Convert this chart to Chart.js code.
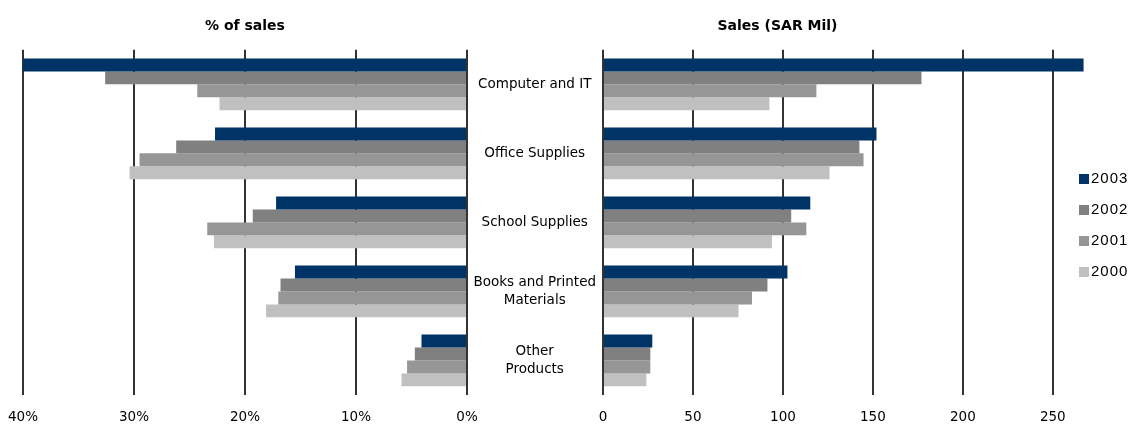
<!DOCTYPE html>
<html>
<head>
<meta charset="utf-8">
<script src="https://cdn.jsdelivr.net/npm/chart.js@4"></script>
<style>
    body { margin: 0; background: #fff; }
    #wrap { position: relative; width: 1130px; height: 425px; }
    #left-box { position: absolute; left: 0; top: 0; width: 480px; height: 425px; }
    #right-box { position: absolute; left: 468px; top: 0; width: 619px; height: 425px; }
    #legend { position: absolute; left: 1079px; top: 169px; font: 15px "Liberation Sans", Arial, sans-serif; letter-spacing: 1px; color: #000; }
    #legend div { height: 31px; line-height: 18px; white-space: nowrap; }
    #legend span.sw { display: inline-block; width: 10px; height: 10px; margin-right: 2px; vertical-align: -1px; }
</style>
</head>
<body>
<div id="wrap">
    <div id="left-box"><canvas id="shareChart"></canvas></div>
    <div id="right-box"><canvas id="salesChart"></canvas></div>
    <div id="legend"></div>
</div>
<script>
// Dữ liệu
const categories = ['Computer and IT', 'Office Supplies', 'School Supplies', ['Books and Printed', 'Materials'], ['Other', 'Products']];
const years = ['2003', '2002', '2001', '2000'];
const yearColors = ['#003366', '#808080', '#969696', '#c0c0c0'];

// % of sales
const share2003 = [40.0, 22.7, 17.2, 15.5, 4.1];
const share2002 = [32.6, 26.2, 19.3, 16.8, 4.7];
const share2001 = [24.3, 29.5, 23.4, 17.0, 5.4];
const share2000 = [22.3, 30.4, 22.8, 18.1, 5.9];
const shareTicks = [0, 10, 20, 30, 40];

// Sales (SAR Mil)
const sales2003 = [267.1, 152.0, 115.2, 102.5, 27.4];
const sales2002 = [177.0, 142.5, 104.6, 91.4, 26.3];
const sales2001 = [118.6, 144.8, 113.0, 82.8, 26.3];
const sales2000 = [92.5, 125.9, 93.9, 75.3, 24.1];
const salesTicks = [0, 50, 100, 150, 200, 250];

const FONT = '"DejaVu Sans", sans-serif';

function makeDatasets(seriesList) {
    return seriesList.map((data, i) => ({
        label: years[i],
        data: data,
        backgroundColor: yearColors[i],
        borderWidth: 0,
        barPercentage: 1.0,
        categoryPercentage: 0.75
    }));
}

function baseOptions(title) {
    return {
        indexAxis: 'y',
        responsive: true,
        maintainAspectRatio: false,
        animation: false,
        plugins: {
            legend: { display: false },
            tooltip: { enabled: false },
            title: {
                display: true,
                text: title,
                color: '#000',
                font: { family: FONT, size: 14, weight: 'bold' },
                padding: { top: 18, bottom: 15 }
            }
        }
    };
}

// Trục x dùng chung kiểu
function xAxis(min, max, tickList, fmt) {
    return {
        min: min,
        max: max,
        afterBuildTicks: axis => { axis.ticks = tickList.map(v => ({ value: v })); },
        afterFit: scale => { scale.height = 30; },
        grid: { color: '#333', lineWidth: 2, drawTicks: false },
        border: { display: false },
        ticks: {
            padding: 14,
            color: '#000',
            font: { family: FONT, size: 13.5 },
            callback: fmt
        }
    };
}

// Biểu đồ trái: % of sales
const leftOpts = baseOptions('% of sales');
leftOpts.layout = { padding: { left: 23, right: 13, bottom: 0 } };
leftOpts.scales = {
    x: Object.assign(xAxis(0, 40, shareTicks, v => v + '%'), { reverse: true }),
    y: { display: false }
};

new Chart(document.getElementById('shareChart'), {
    type: 'bar',
    data: {
        labels: categories,
        datasets: makeDatasets([share2003, share2002, share2001, share2000])
    },
    options: leftOpts
});

// Biểu đồ phải: Sales (SAR Mil)
const rightOpts = baseOptions('Sales (SAR Mil)');
rightOpts.layout = { padding: { left: 0, right: 0, bottom: 0 } };
rightOpts.scales = {
    x: xAxis(0, 269, salesTicks, v => v),
    y: {
        afterFit: scale => { scale.width = 135; },
        grid: { display: false, drawTicks: false },
        border: { display: false },
        ticks: {
            padding: 7,
            crossAlign: 'center',
            color: '#000',
            font: { family: FONT, size: 13.5, lineHeight: 1.33 }
        }
    }
};

new Chart(document.getElementById('salesChart'), {
    type: 'bar',
    data: {
        labels: categories,
        datasets: makeDatasets([sales2003, sales2002, sales2001, sales2000])
    },
    options: rightOpts
});

// Chú giải
const legendEl = document.getElementById('legend');
years.forEach((y, i) => {
    const row = document.createElement('div');
    row.innerHTML = '<span class="sw" style="background:' + yearColors[i] + '"></span>' + y;
    legendEl.appendChild(row);
});
</script>
</body>
</html>
